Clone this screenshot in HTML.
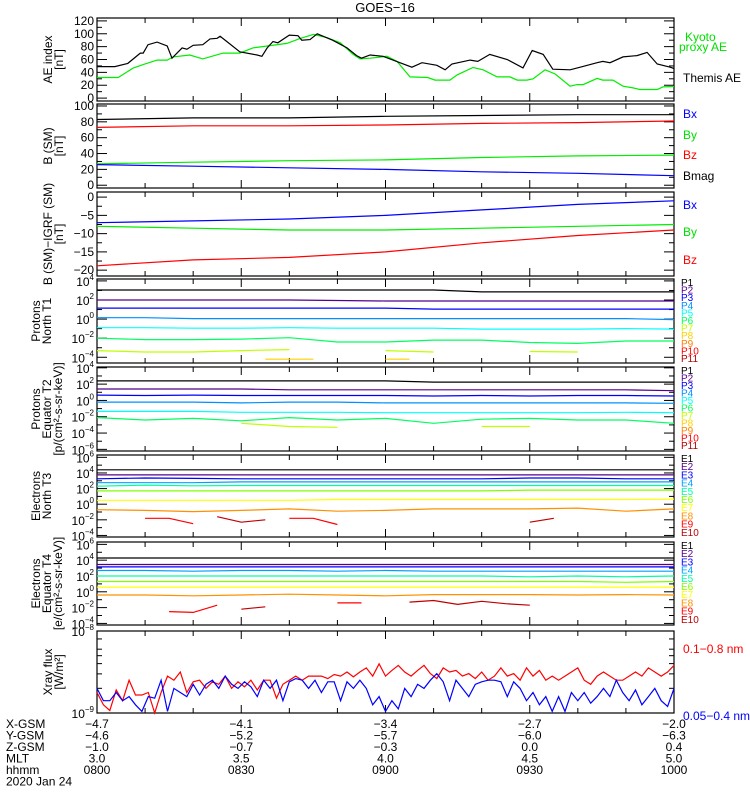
<!DOCTYPE html>
<html><head><meta charset="utf-8"><style>
body{margin:0;background:#fff;}
svg{display:block;font-family:"Liberation Sans",sans-serif;}
</style></head><body>
<svg id="chart" width="750" height="800" viewBox="0 0 750 800" xmlns="http://www.w3.org/2000/svg">
<rect width="750" height="800" fill="#fff"/>
<text x="385" y="12" font-size="13" text-anchor="middle">GOES−16</text>
</svg>
<script>
// ---------- data ----------
const aeThemisT = [0,3.7,6.4,9,9.6,10.6,12.5,14.6,15.6,17.7,18.7,20,22,23.5,25,25.6,27,29.7,33.3,34.3,35.4,36.6,37.6,40,41.8,42.6,44.3,45.8,49,52,54,55,56.8,59.5,63,65.5,67.6,70.7,72.4,73.8,77.6,79.2,81.7,85.3,88.6,90.5,92.8,94.8,98.4,101,104,105.2,106.7,109.4,112.3,114.4,116.5,119.2,120];
const aeThemisV = [49,49,54,70,70,83,87,81,62,78,76,82,83,92,93,96,88,72,67,65,78,88,86,98,97,90,91,100,90,78,66,62,67,65,55,48,55,51,44,53,59,57,68,60,47,74,68,45,44,49,55,57,55,64,66,71,53,48,46];
const aeKyotoT = [0,4.4,7.5,9.6,12.5,14.6,15.8,19.3,22,26.2,29.7,32.4,35.4,39.5,42.2,45,47.8,50.6,53.3,54.7,56.8,60.3,62.4,65.1,68.8,70.3,73.4,74.9,78.2,80.3,83.2,85.9,87.4,89.4,90.7,93.2,95.3,98.4,99.8,101.1,104,105.2,107.3,109.4,111.5,112.9,116.5,117.7,120];
const aeKyotoV = [32,32,46.6,52,59,59,64,67,61,70,70,78,81,85,92.5,99,94,86,67.7,61,62,65,57,33,32,28,28,36,47.6,44,33,33,28,28,30,44,37.5,18.5,21,21,30.7,28,28,18.5,15.9,13.3,13.3,17.4,18];
const bBmag = [83,85,85,87,88,89,89];
const bBz = [73,75,75,76,78,79,81];
const bBy = [27,29,31,32,35,37,38];
const bBx = [26,24,22,20,17,15,12];
const dBx = [-7,-6.5,-6,-5,-3.5,-2,-1];
const dBy = [-8,-8.5,-9,-9,-8.5,-8,-7.5];
const dBz = [-18.8,-17.2,-16.5,-15,-12.5,-10.5,-9];
const pT1 = [
 [3.05,3.05,3.05,3.05,3.05,3.05,3.05,3.05,2.85,2.85,2.85,2.85,2.85],
 [2.0,2.0,2.0,2.0,2.0,1.95,1.9,1.9,1.9,1.9,1.9,1.9,1.9],
 [1.15,1.15,1.15,1.15,1.15,1.15,1.15,1.05,1.05,1.05,1.05,1.05,1.05],
 [0.15,0.15,0.05,0.05,0.05,0.05,0.05,0.05,0.05,0.05,0.05,0.05,-0.05],
 [-0.9,-0.9,-0.95,-0.95,-0.9,-0.95,-0.95,-0.95,-1.05,-1.05,-1.05,-1.0,-1.05],
 [-2.0,-2.15,-2.15,-2.1,-1.95,-2.4,-2.4,-2.2,-2.2,-2.45,-2.55,-2.3,-2.3],
 [-3.3,-3.45,-3.45,-3.3,-3.2,null,-3.3,-3.45,null,-3.4,-3.45,null,-3.4],
 [null,null,null,null,null,null,null,-4.2,-4.2,-4.2,null,null,-4.2,-4.2,null,null,null,null,null,null,null,null,null,null,null]
];
const pT2 = [
 [2.4,2.4,2.4,2.4,2.4,2.4,2.4,2.25,2.25,2.25,2.25,2.25,2.25],
 [1.4,1.4,1.4,1.4,1.3,1.3,1.3,1.3,1.3,1.3,1.3,1.3,1.2],
 [0.65,0.6,0.65,0.6,0.6,0.6,0.6,0.55,0.6,0.55,0.6,0.6,0.55],
 [-0.2,-0.2,-0.2,-0.3,-0.2,-0.2,-0.3,-0.3,-0.3,-0.3,-0.3,-0.3,-0.35],
 [-1.35,-1.35,-1.35,-1.45,-1.45,-1.45,-1.5,-1.5,-1.5,-1.5,-1.5,-1.45,-1.5],
 [-2.1,-2.4,-2.2,-2.5,-2.1,-2.4,-2.2,-2.8,-2.3,-2.2,-2.4,-2.4,-2.8],
 [null,-3.2,null,-2.8,-3.2,-3.3,null,null,-3.2,-3.2,null,null,null]
];
const eT3 = [
 [4.4,4.4,4.4,4.4,4.4,4.4,4.4,4.4,4.4,4.4,4.4,4.4,4.4],
 [3.75,3.75,3.75,3.75,3.75,3.75,3.75,3.75,3.75,3.75,3.75,3.75,3.75],
 [3.25,3.35,3.3,3.25,3.25,3.25,3.25,3.25,3.25,3.35,3.35,3.25,3.25],
 [2.75,2.75,2.75,2.85,2.85,2.85,2.85,2.85,2.85,2.85,2.85,2.85,2.85],
 [2.3,2.45,2.35,2.4,2.4,2.4,2.4,2.4,2.4,2.4,2.4,2.4,2.4],
 [1.7,1.7,1.7,1.7,1.7,1.7,1.7,1.7,1.7,1.8,1.8,1.8,1.8],
 [0.5,0.5,0.5,0.5,0.5,0.6,0.6,0.6,0.6,0.6,0.6,0.6,0.65],
 [-0.7,-0.8,-0.95,-0.8,-0.6,-0.9,-0.8,-0.6,-0.6,-0.6,-0.5,-0.9,-0.6]
];
const eT3red = [null,null,-1.8,-1.8,-2.5,null,null,null,-1.8,-1.8,-2.6,null,null,null,null,null,null,null,null,null,null,null,null,null,null];
const eT3dark = [null,null,null,null,null,-1.6,-2.3,-2.0,null,null,null,null,null,null,null,null,null,null,-2.3,-1.8,null,null,null,null,null];
const eT4 = [
 [4.27,4.27,4.27,4.27,4.27,4.27,4.27,4.27,4.27,4.27,4.27,4.27,4.27],
 [3.45,3.45,3.45,3.45,3.45,3.45,3.45,3.45,3.45,3.45,3.45,3.45,3.45],
 [3.15,3.15,3.15,3.15,3.15,3.15,3.15,3.15,3.15,3.15,3.15,3.15,3.15],
 [2.7,2.7,2.6,2.7,2.7,2.6,2.7,2.6,2.6,2.6,2.6,2.6,2.6],
 [2.0,2.0,2.0,2.0,2.0,2.0,2.0,2.0,2.0,1.9,2.0,1.9,2.0],
 [1.3,1.3,1.3,1.3,1.3,1.3,1.3,1.3,1.3,1.3,1.3,1.2,1.3],
 [0.6,0.6,0.6,0.6,0.6,0.6,0.6,0.6,0.6,0.6,0.6,0.6,0.6],
 [-0.4,-0.4,-0.5,-0.4,-0.3,-0.4,-0.5,-0.35,-0.35,-0.35,-0.4,-0.35,-0.4]
];
const eT4red = [null,null,null,-2.5,-2.6,-1.7,null,null,null,null,-1.4,-1.4,null,null,null,null,null,null,null,null,null,null,null,null,null];
const eT4dark = [null,null,null,null,null,null,-2.2,-1.9,null,null,null,null,null,-1.3,-1.1,-1.6,-1.2,-1.5,-1.7,null,null,null,null,null,null];
const xrayLong = [-8.75,-8.9,-8.97,-8.72,-8.85,-8.6,-8.78,-8.78,-8.75,-9.0,-8.75,-8.55,-8.6,-8.5,-8.75,-8.62,-8.6,-8.7,-8.62,-8.65,-8.55,-8.7,-8.62,-8.68,-8.6,-8.72,-8.6,-8.6,-8.82,-8.65,-8.6,-8.55,-8.6,-8.55,-8.55,-8.55,-8.58,-8.53,-8.55,-8.5,-8.56,-8.5,-8.45,-8.55,-8.4,-8.55,-8.48,-8.42,-8.5,-8.55,-8.48,-8.42,-8.52,-8.58,-8.45,-8.5,-8.48,-8.55,-8.52,-8.58,-8.5,-8.6,-8.55,-8.45,-8.55,-8.52,-8.6,-8.45,-8.55,-8.48,-8.6,-8.55,-8.6,-8.55,-8.5,-8.45,-8.6,-8.65,-8.55,-8.5,-8.55,-8.6,-8.6,-8.55,-8.5,-8.55,-8.45,-8.5,-8.55,-8.5,-8.42];
const xrayShort = [-8.7,-8.85,-8.85,-8.75,-8.85,-8.8,-8.9,-8.98,-8.8,-8.82,-8.6,-8.98,-8.7,-8.75,-8.8,-8.65,-8.78,-8.65,-8.6,-8.7,-8.55,-8.65,-8.7,-8.62,-8.68,-8.8,-8.6,-8.7,-8.6,-8.85,-8.62,-8.58,-8.6,-8.7,-8.6,-8.75,-8.62,-8.62,-8.85,-8.62,-8.7,-8.6,-8.7,-8.9,-8.8,-8.98,-8.85,-8.95,-8.7,-8.8,-8.65,-8.7,-8.6,-8.52,-8.62,-8.85,-8.6,-8.7,-8.8,-8.65,-8.62,-8.6,-8.6,-8.62,-8.8,-8.62,-8.7,-8.85,-8.75,-8.9,-8.8,-8.98,-8.8,-8.98,-8.75,-8.85,-8.75,-8.88,-8.8,-8.7,-8.8,-8.6,-8.75,-8.85,-8.72,-8.9,-8.8,-8.7,-8.85,-8.92,-8.7];
const xGsm = ["−4.7","−4.1","−3.4","−2.7","−2.0"];
const yGsm = ["−4.6","−5.2","−5.7","−6.0","−6.3"];
const zGsm = ["−1.0","−0.7","−0.3","0.0","0.4"];
const mlt = ["3.0","3.5","4.0","4.5","5.0"];
const hhmm = ["0800","0830","0900","0930","1000"];

// ---------- helpers ----------
const svg = document.getElementById('chart');
const NS = 'http://www.w3.org/2000/svg';
const L = 97, R = 674;
function X(t){ return L + (R - L) * t / 120; }
function mk(tag, attrs, parent){ const e = document.createElementNS(NS, tag); for (const k in attrs) e.setAttribute(k, attrs[k]); (parent||svg).appendChild(e); return e; }
function yLin(p, v){ return p.y1 - (v - p.min) / (p.max - p.min) * (p.y1 - p.y0); }
const PC = ['#000000','#55008c','#0000ff','#0090ff','#00ffff','#00ff60','#c0ff00','#ffd000','#ff8000','#ff0000','#b00000'];
const EC = ['#000000','#55008c','#0000ff','#00a0ff','#00ffa0','#80ff00','#ffff00','#ff9000','#ff0000','#c00000'];

function drawSeries(p, times, vals, color, name){
  let d = ''; let pen = false;
  for (let i = 0; i < vals.length; i++){
    if (vals[i] === null){ pen = false; continue; }
    const x = X(times[i]).toFixed(1), y = yLin(p, Math.max(p.min, Math.min(p.max, vals[i]))).toFixed(1);
    d += (pen ? 'L' : 'M') + x + ' ' + y + ' '; pen = true;
  }
  const path = mk('path', {d: d, fill: 'none', stroke: color, 'stroke-width': 1.2}, p.g);
  
  
}
function idxTimes(n){ const a = []; for (let i = 0; i < n; i++) a.push(i * 120 / (n - 1)); return a; }

function frame(p){
  const g = mk('g', {});
  
  
  p.g = g;
  mk('rect', {x: L, y: p.y0, width: R - L, height: p.y1 - p.y0, fill: 'none', stroke: '#000', 'stroke-width': 1.2}, g);
  for (let m = 10; m < 120; m += 10){
    const len = (m % 30 === 0) ? 8 : 5;
    mk('line', {x1: X(m), x2: X(m), y1: p.y1, y2: p.y1 - len, stroke: '#000'}, g);
    mk('line', {x1: X(m), x2: X(m), y1: p.y0, y2: p.y0 + len, stroke: '#000'}, g);
  }
  p.ticks.forEach(tk => {
    const y = yLin(p, tk.v);
    mk('line', {x1: L, x2: L + 10, y1: y, y2: y, stroke: '#000'}, g);
    mk('line', {x1: R, x2: R - 10, y1: y, y2: y, stroke: '#000'}, g);
    if (tk.log){
      const t = mk('text', {x: L - 3, y: y + 5, 'font-size': 12, 'text-anchor': 'end'}, g);
      t.textContent = '10';
      const s = mk('tspan', {'font-size': 8, dy: -6}, t);
      s.textContent = tk.v < 0 ? '−' + (-tk.v) : String(tk.v);
    } else {
      const t = mk('text', {x: L - 3, y: y + 4, 'font-size': 12, 'text-anchor': 'end'}, g);
      t.textContent = tk.label;
    }
  });
  (p.minor || []).forEach(v => {
    const y = yLin(p, v);
    mk('line', {x1: L, x2: L + 5, y1: y, y2: y, stroke: '#000'}, g);
    mk('line', {x1: R, x2: R - 5, y1: y, y2: y, stroke: '#000'}, g);
  });
  p.title.forEach((ln, i) => {
    const cx = p.titleX[i], cy = (p.y0 + p.y1) / 2;
    const t = mk('text', {x: cx, y: cy, 'font-size': 12, 'text-anchor': 'middle', transform: 'rotate(-90 ' + cx + ' ' + cy + ')'}, g);
    
    
    t.textContent = ln;
  });
  p.legend.forEach(lg => {
    const t = mk('text', {x: lg.x || 683, y: lg.y, 'font-size': lg.fs || 12, fill: lg.c}, g);
    
    
    t.textContent = lg.t;
  });
}
function linTicks(min, max, step){ const a = []; for (let v = min; v <= max + 1e-9; v += step) a.push({v: v, label: String(Math.round(v)).replace('-', '−')}); return a; }
function logTicks(list){ return list.map(v => ({v: v, log: true})); }
function chLegend(prefix, n, cols, yStart, yStep){ const a = []; for (let i = 0; i < n; i++) a.push({t: prefix + (i + 1), c: cols[i], y: yStart + i * yStep, fs: 10, x: 681}); return a; }

// ---------- panels ----------
const P1 = {name: 'ae-index-panel', y0: 18, y1: 101, min: -4.5, max: 124.5, ticks: linTicks(0, 120, 20), minor: [10,30,50,70,90,110],
  title: ['AE index', '[nT]'], titleX: [52, 63],
  legend: [{t: 'Kyoto', c: '#00e000', y: 41, x: 685}, {t: 'proxy AE', c: '#00e000', y: 51, x: 679}, {t: 'Themis AE', c: '#000', y: 82, x: 683}]};
frame(P1);
drawSeries(P1, aeKyotoT, aeKyotoV, '#00ee00', 'kyoto-proxy-ae-line');
drawSeries(P1, aeThemisT, aeThemisV, '#000', 'themis-ae-line');

const P2 = {name: 'b-sm-panel', y0: 104, y1: 188, min: -3.5, max: 102.5, ticks: linTicks(0, 100, 20), minor: [10,30,50,70,90],
  title: ['B (SM)', '[nT]'], titleX: [52, 63],
  legend: [{t: 'Bx', c: '#0000ff', y: 118}, {t: 'By', c: '#00e000', y: 139}, {t: 'Bz', c: '#ff0000', y: 159}, {t: 'Bmag', c: '#000', y: 180}]};
frame(P2);
const bT = idxTimes(7);
drawSeries(P2, bT, bBmag, '#000', 'bmag-line');
drawSeries(P2, bT, bBz, '#ff0000', 'bz-line');
drawSeries(P2, bT, bBy, '#00ee00', 'by-line');
drawSeries(P2, bT, bBx, '#0000ff', 'bx-line');

const P3 = {name: 'b-minus-igrf-panel', y0: 192, y1: 276, min: -21.6, max: 1.4, ticks: linTicks(-20, 0, 5), minor: [-17.5,-12.5,-7.5,-2.5],
  title: ['B (SM)−IGRF (SM)', '[nT]'], titleX: [52, 63],
  legend: [{t: 'Bx', c: '#0000ff', y: 209}, {t: 'By', c: '#00e000', y: 236}, {t: 'Bz', c: '#ff0000', y: 264}]};
frame(P3);
drawSeries(P3, bT, dBx, '#0000ff', 'dbx-line');
drawSeries(P3, bT, dBy, '#00ee00', 'dby-line');
drawSeries(P3, bT, dBz, '#ff0000', 'dbz-line');

const P4 = {name: 'protons-north-t1-panel', y0: 279, y1: 363, min: -4.6, max: 4.2, ticks: logTicks([4,2,0,-2,-4]), minor: [3,1,-1,-3],
  title: ['Protons', 'North T1'], titleX: [40, 51], legend: chLegend('P', 11, PC, 286, 7.6)};
frame(P4);
pT1.forEach((s, i) => drawSeries(P4, idxTimes(s.length), s, PC[i], 'proton-t1-p' + (i + 1)));

const P5 = {name: 'protons-equator-t2-panel', y0: 367, y1: 451, min: -6.2, max: 4.1, ticks: logTicks([4,2,0,-2,-4,-6]), minor: [3,1,-1,-3,-5],
  title: ['Protons', 'Equator T2', '[p/(cm²-s-sr-keV)]'], titleX: [40, 51, 62], legend: chLegend('P', 11, PC, 374, 7.5)};
frame(P5);
pT2.forEach((s, i) => drawSeries(P5, idxTimes(s.length), s, PC[i], 'proton-t2-p' + (i + 1)));

const P6 = {name: 'electrons-north-t3-panel', y0: 455, y1: 537, min: -4.2, max: 6.3, ticks: logTicks([6,4,2,0,-2,-4]), minor: [5,3,1,-1,-3],
  title: ['Electrons', 'North T3'], titleX: [40, 51], legend: chLegend('E', 10, EC, 462, 8.2)};
frame(P6);
eT3.forEach((s, i) => drawSeries(P6, idxTimes(s.length), s, EC[i], 'electron-t3-e' + (i + 1)));
drawSeries(P6, idxTimes(eT3red.length), eT3red, EC[8], 'electron-t3-e9');
drawSeries(P6, idxTimes(eT3dark.length), eT3dark, EC[9], 'electron-t3-e10');

const P7 = {name: 'electrons-equator-t4-panel', y0: 542, y1: 625, min: -4.2, max: 6.3, ticks: logTicks([6,4,2,0,-2,-4]), minor: [5,3,1,-1,-3],
  title: ['Electrons', 'Equator T4', '[e/(cm²-s-sr-keV)]'], titleX: [40, 51, 62], legend: chLegend('E', 10, EC, 549, 8.2)};
frame(P7);
eT4.forEach((s, i) => drawSeries(P7, idxTimes(s.length), s, EC[i], 'electron-t4-e' + (i + 1)));
drawSeries(P7, idxTimes(eT4red.length), eT4red, EC[8], 'electron-t4-e9');
drawSeries(P7, idxTimes(eT4dark.length), eT4dark, EC[9], 'electron-t4-e10');

const P8 = {name: 'xray-flux-panel', y0: 631, y1: 713, min: -9, max: -8, ticks: logTicks([-8,-9]),
  minor: [-8.0969,-8.2218,-8.3010,-8.3979,-8.5229,-8.6990],
  title: ['Xray flux', '[W/m²]'], titleX: [52, 63],
  legend: [{t: '0.1−0.8 nm', c: '#ff0000', y: 653}, {t: '0.05−0.4 nm', c: '#0000ff', y: 720}]};
frame(P8);
drawSeries(P8, idxTimes(xrayLong.length), xrayLong, '#ff0000', 'xray-long-line');
drawSeries(P8, idxTimes(xrayShort.length), xrayShort, '#0000ff', 'xray-short-line');

// ---------- bottom ephemeris labels ----------
const rows = [['X-GSM', xGsm], ['Y-GSM', yGsm], ['Z-GSM', zGsm], ['MLT', mlt], ['hhmm', hhmm]];
rows.forEach((r, ri) => {
  const y = 728 + ri * 11.5;
  const lab = mk('text', {x: 6, y: y, 'font-size': 12});
  
  
  lab.textContent = r[0];
  r[1].forEach((v, i) => {
    const t = mk('text', {x: X(i * 30), y: y, 'font-size': 12, 'text-anchor': 'middle'});
    
    
    t.textContent = v;
  });
});
const dl = mk('text', {x: 6, y: 785.5, 'font-size': 12});


dl.textContent = '2020 Jan 24';
</script>
</body></html>
